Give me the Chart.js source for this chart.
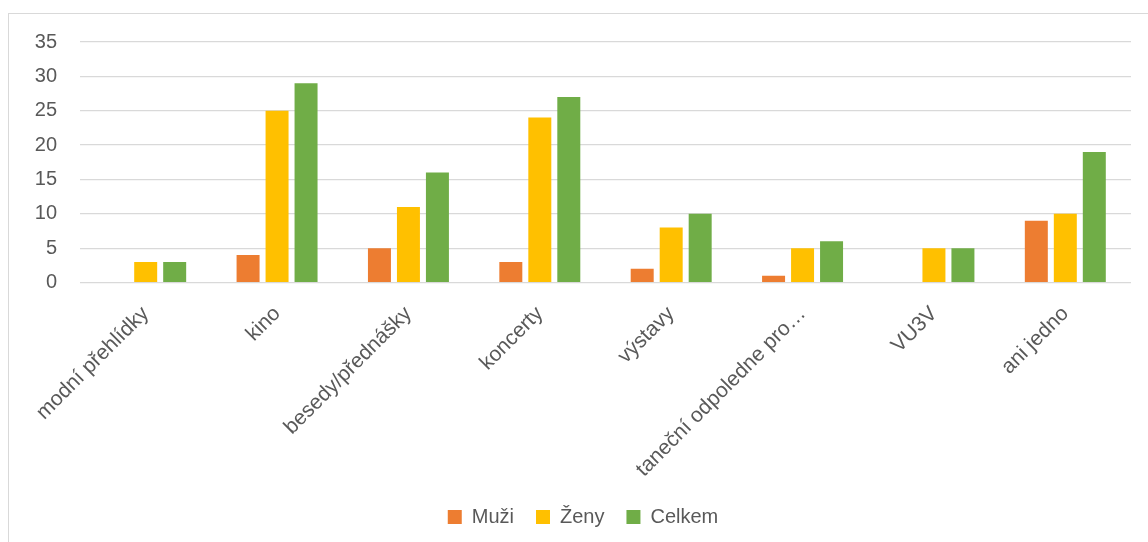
<!DOCTYPE html>
<html>
<head>
<meta charset="utf-8">
<script src="https://cdn.jsdelivr.net/npm/chart.js@4.4.1/dist/chart.umd.min.js"></script>
<style>
  html, body { margin: 0; padding: 0; background: #ffffff; }
  body { width: 1148px; height: 542px; overflow: hidden; position: relative; }
  #frame { position: absolute; left: 8px; top: 13px; width: 1140px; height: 529px;
           border-left: 1px solid #d9d9d9; border-top: 1px solid #d9d9d9; box-sizing: border-box; }
  #wrap { position: absolute; left: 0; top: 0; width: 1139px; height: 528px; }
</style>
</head>
<body>
<div id="frame"><div id="wrap"><canvas id="c"></canvas></div></div>
<script>
const categories = ["modní přehlídky", "kino", "besedy/přednášky", "koncerty", "výstavy", "taneční odpoledne pro…", "VU3V", "ani jedno"];
const muzi   = [0, 4, 5, 3, 2, 1, 0, 9];
const zeny   = [3, 25, 11, 24, 8, 5, 5, 10];
const celkem = [3, 29, 16, 27, 10, 6, 5, 19];
const seriesNames = ["Muži", "Ženy", "Celkem"];
const yTicks = [0, 5, 10, 15, 20, 25, 30, 35];

const FONT = "'Liberation Sans', Arial, sans-serif";
const TXT = "#595959";
const GRID = "#d9d9d9";

new Chart(document.getElementById('c'), {
  type: 'bar',
  data: {
    labels: categories,
    datasets: [
      { label: seriesNames[0], data: muzi,   backgroundColor: '#ED7D31' },
      { label: seriesNames[1], data: zeny,   backgroundColor: '#FFC000' },
      { label: seriesNames[2], data: celkem, backgroundColor: '#70AD47' }
    ]
  },
  options: {
    responsive: true,
    maintainAspectRatio: false,
    animation: false,
    datasets: { bar: { categoryPercentage: 0.662, barPercentage: 0.793 } },
    layout: { padding: { left: 26, right: 17, top: 28, bottom: 5 } },
    plugins: {
      tooltip: { enabled: false },
      legend: {
        position: 'bottom',
        labels: {
          font: { family: FONT, size: 20 },
          color: TXT,
          boxWidth: 14,
          boxHeight: 14,
          padding: 22
        }
      }
    },
    scales: {
      x: {
        grid: { display: false },
        border: { display: false },
        ticks: {
          autoSkip: false,
          minRotation: 45,
          maxRotation: 45,
          font: { family: FONT, size: 21 },
          color: TXT,
          padding: 11
        },
        afterFit: (s) => { s.height -= 8; s.paddingLeft = 0; s.paddingRight = 0; }
      },
      y: {
        min: yTicks[0],
        max: yTicks[yTicks.length - 1],
        afterBuildTicks: (s) => { s.ticks = yTicks.map(v => ({ value: v })); },
        grid: { color: GRID, lineWidth: 1.3, drawTicks: false },
        border: { display: false },
        ticks: {
          font: { family: FONT, size: 20 },
          color: TXT,
          padding: 23
        },
        afterFit: (s) => { s.width = 45; s.paddingTop = 0; s.paddingBottom = 0; }
      }
    }
  }
});
</script>
</body>
</html>
